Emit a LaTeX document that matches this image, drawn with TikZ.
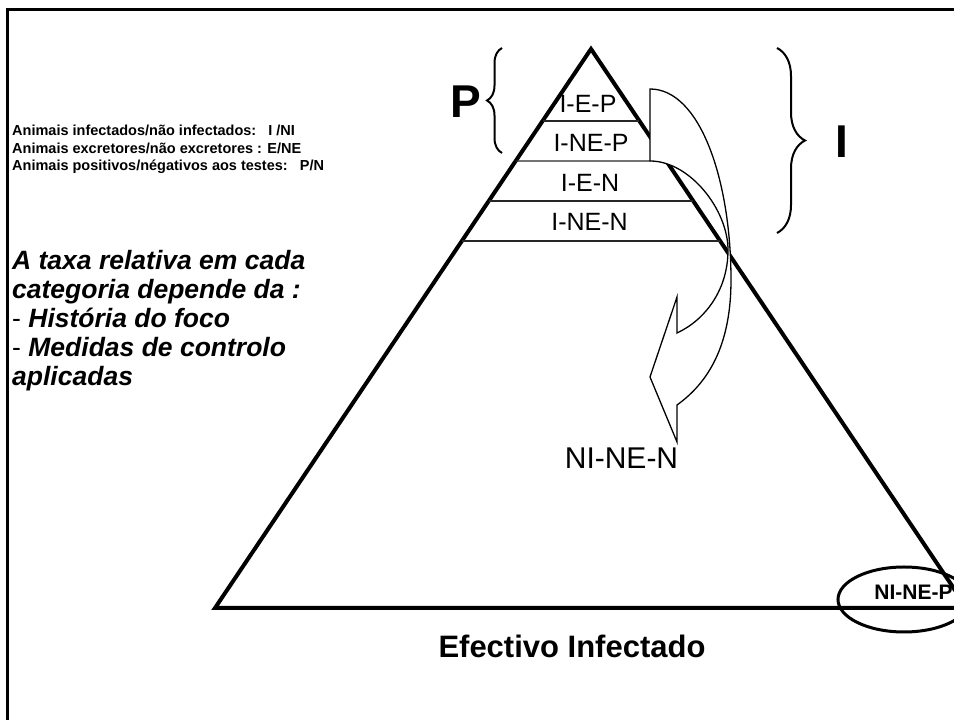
\documentclass[tikz,border=0pt]{standalone}
\usepackage{fontspec}
\setmainfont{Liberation Sans}
\usetikzlibrary{calc,decorations.pathreplacing,positioning}

\begin{document}
\begin{tikzpicture}[x=1pt,y=1pt,line join=miter]

    \tikzstyle{slope}=[line width=4pt]
    \tikzstyle{layer}=[line width=1.3pt,draw=black!85]
    \tikzstyle{tag}=[inner sep=0pt,font=\fontsize{25}{29}\selectfont]
    \tikzstyle{legend}=[inner sep=0pt,anchor=north west,align=left]
    \tikzstyle{bracket}=[line width=2pt,decorate]

    \useasboundingbox (0,0) rectangle (954,720);
    \clip (0,0) rectangle (954,720);

    \draw[line width=3pt] (7,-10) -- (7,710) -- (970,710);

    \coordinate (apex) at (591,671);
    \coordinate (bl)   at (215,112);
    \coordinate (br)   at (967,112);

    % pyramid and its layers
    \draw[slope] (bl) -- (apex) -- (br) -- cycle;
    \foreach \t in {0.1288,0.2719,0.3435}
        \draw[layer] ($(apex)!\t!(bl)$) -- ($(apex)!\t!(br)$);
    \draw[layer] ($(apex)!0.2004!(bl)$) -- (650,559);

    % curved arrow
    \draw[line width=1.3pt,fill=white] (650,631)
        .. controls (700,631) and (731,540) .. (731,440)
        .. controls (731,380) and (712,340) .. (677,315)
        -- (677,278) -- (650,343) -- (677,423) -- (677,387)
        .. controls (705,400) and (728,430) .. (728,470)
        .. controls (728,510) and (690,559) .. (650,559) -- cycle;

    \node[tag] (iep)  at (588,616)   {I-E-P};
    \node[tag] (inep) at (591,577.5) {I-NE-P};
    \node[tag] (ien)  at (590,537.5) {I-E-N};
    \node[tag] (inen) at (589.5,498.3) {I-NE-N};
    \node[inner sep=0pt,font=\fontsize{30}{34}\selectfont] (nine) at (621.5,262) {NI-NE-N};

    \node[inner sep=0pt,font=\bfseries\fontsize{46}{50}\selectfont] (pos) at (465.5,618.5) {P};
    \node[inner sep=0pt,font=\bfseries\fontsize{46}{50}\selectfont] (inf) at (841.5,578.5) {I};
    \draw[bracket,decoration={brace,amplitude=15pt}] (502,567) -- (502,672);
    \draw[bracket,decoration={brace,amplitude=28pt}] (777,672) -- (777,487);

    \node[inner sep=0pt,font=\bfseries\fontsize{21}{24}\selectfont] (ninep) at (913.5,127.5) {NI-NE-P};
    \draw[line width=3pt] (904,120.5) ellipse [x radius=66, y radius=32.5];

    \node[inner sep=0pt,font=\bfseries\fontsize{31}{35}\selectfont] (title) at (572,74) {Efectivo Infectado};

    \node[legend,font=\bfseries\fontsize{14.5}{17.5}\selectfont] (key) at (12,595)
        {Animais infectados/não infectados:\ \ \ I /NI\\
         Animais excretores/não excretores : E/NE\\
         Animais positivos/négativos aos testes:\ \ \ P/N};
    \node[legend,font=\bfseries\itshape\fontsize{26.5}{29}\selectfont] (rate) at (12,470)
        {A taxa relativa em cada\\
         categoria depende da :\\
         {\mdseries\upshape -} História do foco\\
         {\mdseries\upshape -} Medidas de controlo\\
         aplicadas};
\end{tikzpicture}
\end{document}
